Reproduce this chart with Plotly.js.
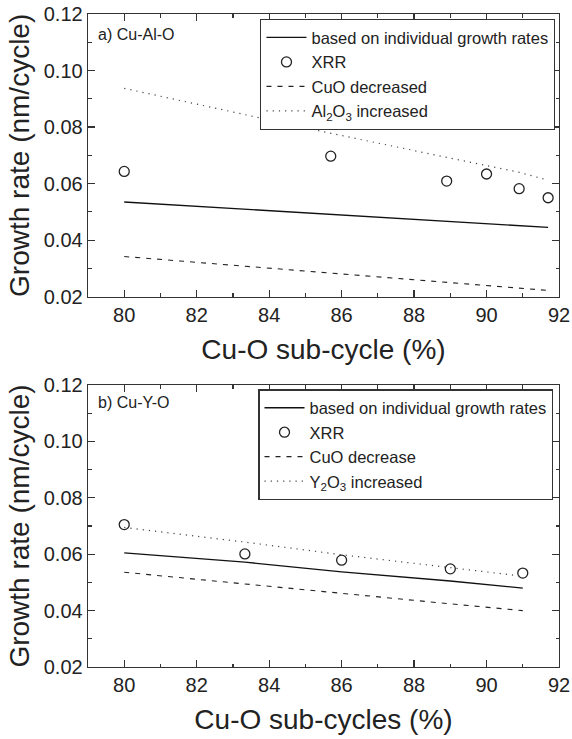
<!DOCTYPE html>
<html>
<head>
<meta charset="utf-8">
<script src="https://cdn.plot.ly/plotly-3.0.1.min.js"></script>
<style>html,body{margin:0;padding:0;background:#fff;}#chart{width:572px;height:739px;}</style>
</head>
<body>
<div id="chart"></div>
<script>
// Panel a) Cu-Al-O
var xA = [80, 85.7, 88.9, 90, 90.9, 91.7];
var xrrA = [0.0643, 0.0697, 0.0609, 0.0634, 0.0582, 0.0550];
var calcA = [0.0535, 0.0491, 0.0466, 0.0458, 0.0451, 0.0445];
var cuoDecA = [0.0342, 0.0284, 0.0251, 0.0240, 0.0230, 0.0222];
var alIncA = [0.0937, 0.0778, 0.0693, 0.0665, 0.0640, 0.0612];

// Panel b) Cu-Y-O
var xB = [80, 83.33, 86, 89, 91];
var xrrB = [0.0705, 0.0601, 0.0579, 0.0548, 0.0533];
var calcB = [0.0605, 0.0572, 0.0537, 0.0505, 0.0480];
var cuoDecB = [0.0536, 0.0494, 0.0462, 0.0424, 0.0400];
var yIncB = [0.0695, 0.0643, 0.0598, 0.0551, 0.0522];

var FONT = "Liberation Sans, Arial, sans-serif";
var lineCol = "#111";

function traces(x, calc, xrr, dec, inc, ax, lg, names) {
  var xa = ax === 1 ? "x" : "x2", ya = ax === 1 ? "y" : "y2";
  return [
    {x: x, y: calc, xaxis: xa, yaxis: ya, legend: lg, mode: "lines", name: names[0],
     line: {color: lineCol, width: 1.3}},
    {x: x, y: xrr, xaxis: xa, yaxis: ya, legend: lg, mode: "markers", name: names[1],
     marker: {symbol: "circle-open", size: 10, color: "#222", line: {width: 1.3, color: "#222"}}},
    {x: x, y: dec, xaxis: xa, yaxis: ya, legend: lg, mode: "lines", name: names[2],
     line: {color: "#222", width: 1.1, dash: "5px,6px"}},
    {x: x, y: inc, xaxis: xa, yaxis: ya, legend: lg, mode: "lines", name: names[3],
     line: {color: "#444", width: 1.2, dash: "1.2px,5px"}}
  ];
}

var data = traces(xA, calcA, xrrA, cuoDecA, alIncA, 1, "legend",
  ["based on individual growth rates", "XRR", "CuO decreased", "Al<sub>2</sub>O<sub>3</sub> increased"])
  .concat(traces(xB, calcB, xrrB, cuoDecB, yIncB, 2, "legend2",
  ["based on individual growth rates", "XRR", "CuO decrease", "Y<sub>2</sub>O<sub>3</sub> increased"]));

function xaxis(title) {
  return {
    domain: [0, 1], range: [79, 92], dtick: 2, tick0: 80,
    ticks: "inside", ticklen: 7, tickwidth: 1.2, tickcolor: "#333",
    minor: {ticks: "inside", ticklen: 3.5, dtick: 1, tick0: 79, tickwidth: 1.2, tickcolor: "#333"},
    showline: true, linecolor: "#333", linewidth: 1.3, mirror: "ticks",
    showgrid: false, zeroline: false,
    tickfont: {family: FONT, size: 20, color: "#222"},
    title: {text: title, font: {family: FONT, size: 28, color: "#222"}, standoff: 14}
  };
}
function yaxis(dom) {
  return {
    domain: dom, range: [0.02, 0.12], dtick: 0.02, tick0: 0.02, tickformat: ".2f",
    ticks: "inside", ticklen: 7, tickwidth: 1.2, tickcolor: "#333",
    minor: {ticks: "inside", ticklen: 3.5, dtick: 0.01, tickwidth: 1.2, tickcolor: "#333"},
    showline: true, linecolor: "#333", linewidth: 1.3, mirror: "ticks",
    showgrid: false, zeroline: false,
    tickfont: {family: FONT, size: 20, color: "#222"},
    title: {text: "Growth rate (nm/cycle)", font: {family: FONT, size: 28, color: "#222"}, standoff: 6}
  };
}

var xa1 = xaxis("Cu-O sub-cycle (%)"); xa1.anchor = "y";
var xa2 = xaxis("Cu-O sub-cycles (%)"); xa2.anchor = "y2";
var ya1 = yaxis([0.5671, 1]); ya1.anchor = "x";
var ya2 = yaxis([0, 0.4318]); ya2.anchor = "x2";

function legend(x, y) {
  return {x: x, y: y, xanchor: "right", yanchor: "top", bgcolor: "#fff",
    bordercolor: "#333", borderwidth: 1.2, font: {family: FONT, size: 16.5, color: "#222"},
    tracegroupgap: 0, itemwidth: 40};
}

var layout = {
  width: 572, height: 739,
  margin: {l: 88.3, r: 13.3, t: 14.3, b: 72.3},
  paper_bgcolor: "#fff", plot_bgcolor: "#fff",
  showlegend: true,
  xaxis: xa1, yaxis: ya1, xaxis2: xa2, yaxis2: ya2,
  legend: legend(0.9921, 0.9923),
  legend2: legend(0.9879, 0.4252),
  annotations: [
    {text: "a) Cu-Al-O", xref: "paper", yref: "paper", x: 0.0174, y: 0.985, xanchor: "left", yanchor: "top",
     showarrow: false, font: {family: FONT, size: 16, color: "#222"}},
    {text: "b) Cu-Y-O", xref: "paper", yref: "paper", x: 0.0174, y: 0.421, xanchor: "left", yanchor: "top",
     showarrow: false, font: {family: FONT, size: 16, color: "#222"}}
  ]
};

Plotly.newPlot("chart", data, layout, {displayModeBar: false, staticPlot: true});
</script>
</body>
</html>
